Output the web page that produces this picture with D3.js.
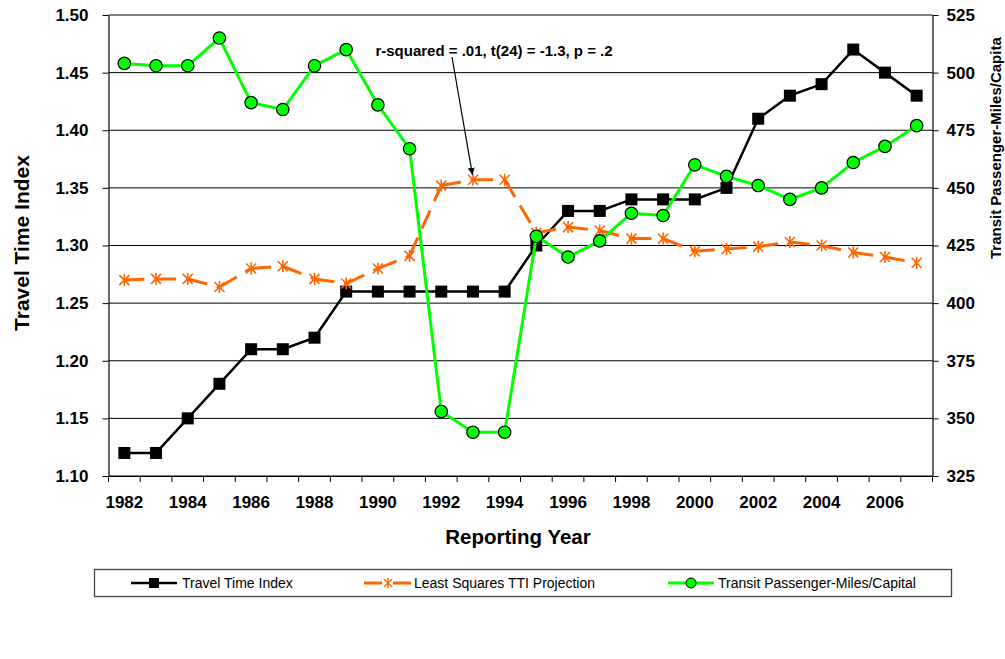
<!DOCTYPE html>
<html>
<head>
<meta charset="utf-8">
<script src="https://cdn.jsdelivr.net/npm/d3@7"></script>
<style>
  body { margin: 0; background: #fff; }
  text { font-family: Arial, "Liberation Sans", sans-serif; }
</style>
</head>
<body>
<div class="chart"></div>
<script>
// Chart data
var years = [1982, 1983, 1984, 1985, 1986, 1987, 1988, 1989, 1990, 1991, 1992, 1993, 1994,
  1995, 1996, 1997, 1998, 1999, 2000, 2001, 2002, 2003, 2004, 2005, 2006, 2007];

var travelTimeIndex = [1.12, 1.12, 1.15, 1.18, 1.21, 1.21, 1.22, 1.26, 1.26, 1.26, 1.26, 1.26, 1.26,
  1.30, 1.33, 1.33, 1.34, 1.34, 1.34, 1.35, 1.41, 1.43, 1.44, 1.47, 1.45, 1.43];

var leastSquaresTTI = [1.270, 1.271, 1.271, 1.264, 1.280, 1.282, 1.271, 1.267, 1.280, 1.291, 1.352, 1.357, 1.357,
  1.311, 1.316, 1.313, 1.306, 1.306, 1.295, 1.297, 1.299, 1.303, 1.300, 1.294, 1.290, 1.285];

var transitPMT = [504, 503, 503, 515, 487, 484, 503, 510, 486, 467, 353, 344, 344,
  429, 420, 427, 439, 438, 460, 455, 451, 445, 450, 461, 468, 477];

var yearLabels = [1982, 1984, 1986, 1988, 1990, 1992, 1994, 1996, 1998, 2000, 2002, 2004, 2006];
var leftTicks = [1.10, 1.15, 1.20, 1.25, 1.30, 1.35, 1.40, 1.45, 1.50];
var rightTicks = [325, 350, 375, 400, 425, 450, 475, 500, 525];

var annotationText = "r-squared = .01, t(24) = -1.3, p = .2";

// SVG area
var svgWidth = 1005;
var svgHeight = 659;

// plot box edges in page pixels
var plot = { left: 108.5, right: 932.5, top: 15, bottom: 476 };

var svg = d3.select(".chart")
  .append("svg")
  .attr("width", svgWidth)
  .attr("height", svgHeight)
  .style("display", "block");

svg.append("rect")
  .attr("width", svgWidth)
  .attr("height", svgHeight)
  .attr("fill", "#fff");

// Scales
var xBand = d3.scaleBand()
  .domain(years)
  .range([plot.left, plot.right])
  .padding(0);

var xMid = d => xBand(d) + xBand.bandwidth() / 2;

var yLeft = d3.scaleLinear()
  .domain([1.10, 1.50])
  .range([plot.bottom, plot.top]);

var yRight = d3.scaleLinear()
  .domain([325, 525])
  .range([plot.bottom, plot.top]);

// Horizontal gridlines
svg.append("g")
  .selectAll("line")
  .data(leftTicks)
  .enter()
  .append("line")
  .attr("x1", plot.left)
  .attr("x2", plot.right)
  .attr("y1", d => yLeft(d))
  .attr("y2", d => yLeft(d))
  .attr("stroke", "#000")
  .attr("stroke-width", 1);

// Left axis
var leftAxis = d3.axisLeft(yLeft)
  .tickValues(leftTicks)
  .tickFormat(d3.format(".2f"))
  .tickSizeInner(6)
  .tickSizeOuter(0)
  .tickPadding(14);

var gLeft = svg.append("g")
  .attr("transform", `translate(${plot.left}, 0)`)
  .call(leftAxis);

// Right axis
var rightAxis = d3.axisRight(yRight)
  .tickValues(rightTicks)
  .tickSizeInner(6)
  .tickSizeOuter(0)
  .tickPadding(8);

var gRight = svg.append("g")
  .attr("transform", `translate(${plot.right}, 0)`)
  .call(rightAxis);

// Bottom axis: ticks between categories, labels every other year
var bottomAxis = d3.axisBottom(xBand)
  .tickValues(yearLabels)
  .tickSize(0)
  .tickPadding(20);

var gBottom = svg.append("g")
  .attr("transform", `translate(0, ${plot.bottom})`)
  .call(bottomAxis);

gBottom.selectAll(".tickmark")
  .data(years.concat([null]))
  .enter()
  .append("line")
  .attr("class", "tickmark")
  .attr("x1", (d, i) => plot.left + i * xBand.bandwidth())
  .attr("x2", (d, i) => plot.left + i * xBand.bandwidth())
  .attr("y1", 0)
  .attr("y2", 6)
  .attr("stroke", "#000");

[gLeft, gRight, gBottom].forEach(function(g) {
  g.select(".domain").attr("stroke", "#000").attr("stroke-width", 1.2);
  g.selectAll(".tick line").attr("stroke", "#000");
  g.selectAll(".tick text")
    .attr("fill", "#000")
    .style("font-size", "17px")
    .style("font-weight", "bold")
    .style("font-family", "Arial, 'Liberation Sans', sans-serif");
});

// Axis titles
svg.append("text")
  .attr("transform", "translate(29, 243) rotate(-90)")
  .attr("text-anchor", "middle")
  .style("font-size", "21px")
  .style("font-weight", "bold")
  .text("Travel Time Index");

svg.append("text")
  .attr("transform", "translate(1001, 259) rotate(-90)")
  .attr("text-anchor", "start")
  .style("font-size", "15px")
  .style("font-weight", "bold")
  .text("Transit Passenger-Miles/Capita");

svg.append("text")
  .attr("x", 518)
  .attr("y", 544)
  .attr("text-anchor", "middle")
  .style("font-size", "20.5px")
  .style("font-weight", "bold")
  .text("Reporting Year");

// Series 1: Travel Time Index (black, squares)
var ttiLine = d3.line()
  .x((d, i) => xMid(years[i]))
  .y(d => yLeft(d));

svg.append("path")
  .datum(travelTimeIndex)
  .attr("d", ttiLine)
  .attr("fill", "none")
  .attr("stroke", "#000")
  .attr("stroke-width", 2.5);

svg.append("g")
  .selectAll("rect")
  .data(travelTimeIndex)
  .enter()
  .append("rect")
  .attr("x", (d, i) => xMid(years[i]) - 6)
  .attr("y", d => yLeft(d) - 6)
  .attr("width", 12)
  .attr("height", 12)
  .attr("fill", "#000");

// Series 2: least squares projection (orange, long dashes restarting each segment)
var lsSegments = d3.pairs(leastSquaresTTI.map((d, i) => [xMid(years[i]), yLeft(d)]));

svg.append("g")
  .selectAll("line")
  .data(lsSegments)
  .enter()
  .append("line")
  .attr("x1", d => d[0][0])
  .attr("y1", d => d[0][1])
  .attr("x2", d => d[1][0])
  .attr("y2", d => d[1][1])
  .attr("stroke", "#FF6600")
  .attr("stroke-width", 3)
  .attr("stroke-dasharray", "20,10");

var star = svg.append("g")
  .selectAll("g")
  .data(leastSquaresTTI)
  .enter()
  .append("g")
  .attr("transform", (d, i) => `translate(${xMid(years[i])}, ${yLeft(d)})`)
  .attr("stroke", "#FF6600")
  .attr("stroke-width", 1.6);

star.append("line").attr("x1", 0).attr("y1", -6).attr("x2", 0).attr("y2", 6);
star.append("line").attr("x1", -5).attr("y1", -5).attr("x2", 5).attr("y2", 5);
star.append("line").attr("x1", -5).attr("y1", 5).attr("x2", 5).attr("y2", -5);

// Series 3: transit passenger-miles (green, circles) on right axis
var transitLine = d3.line()
  .x((d, i) => xMid(years[i]))
  .y(d => yRight(d));

svg.append("path")
  .datum(transitPMT)
  .attr("d", transitLine)
  .attr("fill", "none")
  .attr("stroke", "#00FF00")
  .attr("stroke-width", 3);

svg.append("g")
  .selectAll("circle")
  .data(transitPMT)
  .enter()
  .append("circle")
  .attr("cx", (d, i) => xMid(years[i]))
  .attr("cy", d => yRight(d))
  .attr("r", 6.2)
  .attr("fill", "#00FF00")
  .attr("stroke", "#000")
  .attr("stroke-width", 1.2);

// Annotation with arrow pointing at the 1993 projection point
svg.append("defs")
  .append("marker")
  .attr("id", "arrow")
  .attr("viewBox", "0 0 10 10")
  .attr("refX", 10)
  .attr("refY", 5)
  .attr("markerWidth", 7)
  .attr("markerHeight", 8)
  .attr("markerUnits", "userSpaceOnUse")
  .attr("orient", "auto")
  .append("path")
  .attr("d", "M0,0 L10,5 L0,10 Z")
  .attr("fill", "#000");

svg.append("line")
  .attr("x1", 452)
  .attr("y1", 57)
  .attr("x2", xMid(1993) - 0.5)
  .attr("y2", yLeft(leastSquaresTTI[years.indexOf(1993)]) - 5)
  .attr("stroke", "#000")
  .attr("stroke-width", 1.2)
  .attr("marker-end", "url(#arrow)");

svg.append("text")
  .attr("x", 494)
  .attr("y", 56)
  .attr("text-anchor", "middle")
  .style("font-size", "15px")
  .style("font-weight", "bold")
  .text(annotationText);

// Legend
var legend = svg.append("g");

legend.append("rect")
  .attr("x", 94.5)
  .attr("y", 569.5)
  .attr("width", 857)
  .attr("height", 27)
  .attr("fill", "#fff")
  .attr("stroke", "#444")
  .attr("stroke-width", 1.3);

var legendY = 583;

// Travel Time Index entry
legend.append("line")
  .attr("x1", 131).attr("x2", 177).attr("y1", legendY).attr("y2", legendY)
  .attr("stroke", "#000").attr("stroke-width", 2.5);
legend.append("rect")
  .attr("x", 154 - 5).attr("y", legendY - 5).attr("width", 10).attr("height", 10)
  .attr("fill", "#000");
legend.append("text")
  .attr("x", 182).attr("y", legendY + 5)
  .style("font-size", "14px")
  .text("Travel Time Index");

// Least squares entry
legend.append("line")
  .attr("x1", 364).attr("x2", 411).attr("y1", legendY).attr("y2", legendY)
  .attr("stroke", "#FF6600").attr("stroke-width", 3)
  .attr("stroke-dasharray", "18,11");
var lgStar = legend.append("g")
  .attr("transform", `translate(388, ${legendY})`)
  .attr("stroke", "#FF6600")
  .attr("stroke-width", 1.5);
lgStar.append("line").attr("x1", 0).attr("y1", -5).attr("x2", 0).attr("y2", 5);
lgStar.append("line").attr("x1", -4).attr("y1", -4).attr("x2", 4).attr("y2", 4);
lgStar.append("line").attr("x1", -4).attr("y1", 4).attr("x2", 4).attr("y2", -4);
legend.append("text")
  .attr("x", 414).attr("y", legendY + 5)
  .style("font-size", "14px")
  .text("Least Squares TTI Projection");

// Transit entry
legend.append("line")
  .attr("x1", 668).attr("x2", 714).attr("y1", legendY).attr("y2", legendY)
  .attr("stroke", "#00FF00").attr("stroke-width", 3);
legend.append("circle")
  .attr("cx", 691).attr("cy", legendY).attr("r", 5)
  .attr("fill", "#00FF00").attr("stroke", "#000").attr("stroke-width", 1);
legend.append("text")
  .attr("x", 718).attr("y", legendY + 5)
  .style("font-size", "14px")
  .text("Transit Passenger-Miles/Capital");
</script>
</body>
</html>
